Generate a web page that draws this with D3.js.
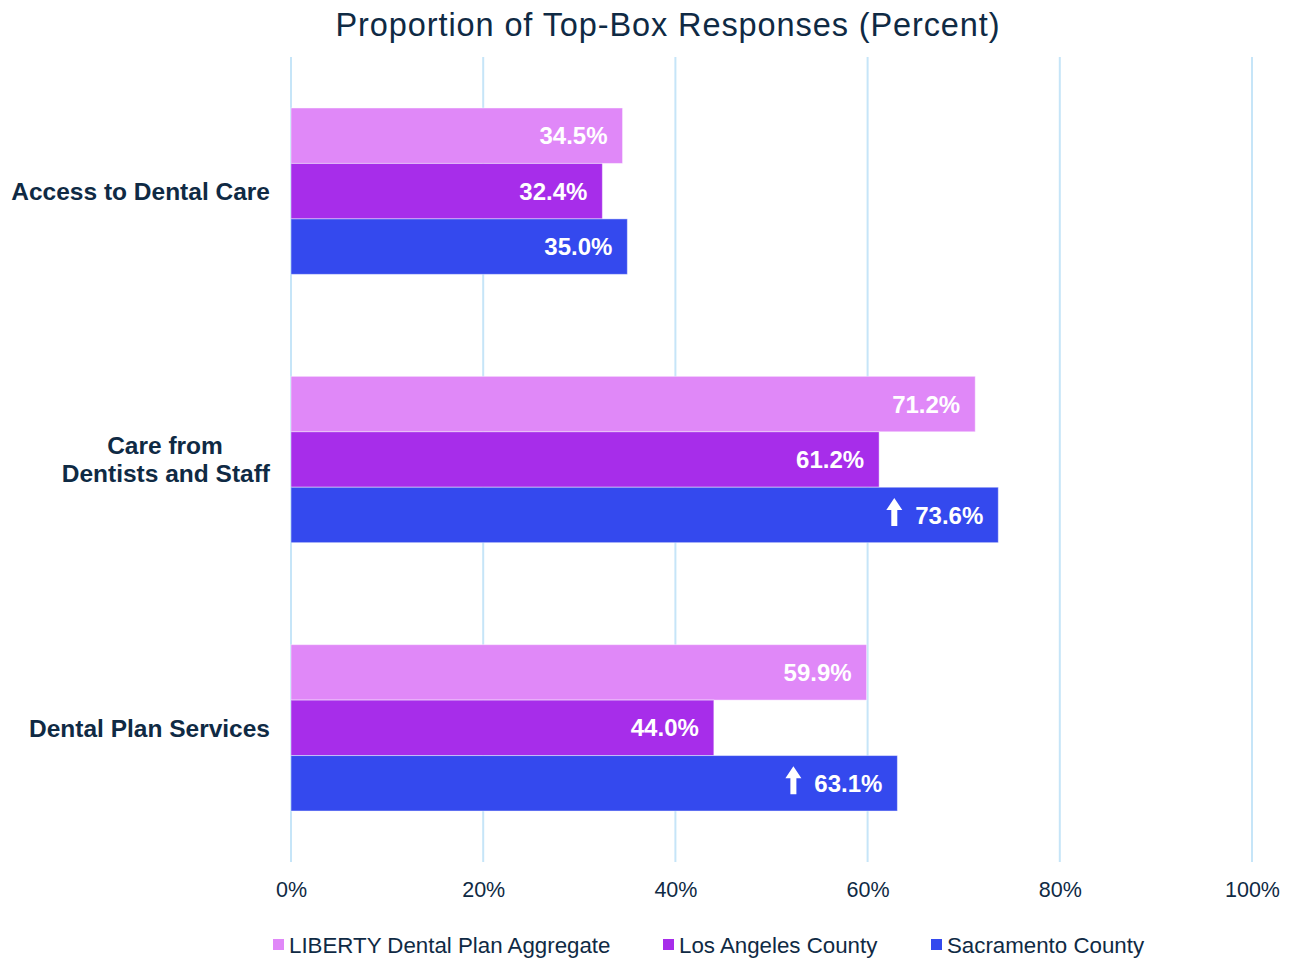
<!DOCTYPE html>
<html><head><meta charset="utf-8">
<script src="https://cdn.jsdelivr.net/npm/d3@7"></script>
<style>body{margin:0;background:#fff;} text{font-family:"Liberation Sans",Arial,sans-serif;}</style>
</head><body>
<svg id="chart" width="1291" height="961"></svg>
<script>
const categories = ["Access to Dental Care", "Care from\nDentists and Staff", "Dental Plan Services"];
const seriesNames = ["LIBERTY Dental Plan Aggregate", "Los Angeles County", "Sacramento County"];
const seriesColors = ["#E088F8", "#A72DEA", "#3449EE"];
const libertyValues = [34.5, 71.2, 59.9];
const losAngelesValues = [32.4, 61.2, 44.0];
const sacramentoValues = [35.0, 73.6, 63.1];
const sacramentoHigher = [false, true, true];
const tickValues = [0, 20, 40, 60, 80, 100];

const values = [libertyValues, losAngelesValues, sacramentoValues];
const textColor = "#0F2A44";
const svg = d3.select("#chart");

const x = d3.scaleLinear().domain([0, 100]).range([291, 1252]);
const y0 = d3.scaleBand().domain(categories).range([57, 862]).paddingInner(0.38).paddingOuter(0.19);
const y1 = d3.scaleBand().domain(d3.range(seriesNames.length)).range([0, y0.bandwidth()]);

// title
svg.append("text").attr("x", 668).attr("y", 36).attr("text-anchor", "middle")
  .attr("font-size", 32.5).attr("letter-spacing", 0.9).attr("fill", textColor)
  .text("Proportion of Top-Box Responses (Percent)");

// grid
svg.append("g").selectAll("line").data(tickValues).join("line")
  .attr("x1", d => x(d)).attr("x2", d => x(d)).attr("y1", 57).attr("y2", 862)
  .attr("stroke", "#C6E5F8").attr("stroke-width", 2);

// tick labels
const xAxis = d3.axisBottom(x).tickValues(tickValues).tickFormat(d => d + "%").tickSize(0).tickPadding(0);
const ax = svg.append("g").attr("transform", "translate(0,882)").call(xAxis);
ax.select(".domain").remove();
ax.selectAll("text").attr("font-size", 21.5).attr("fill", textColor).attr("font-family", "Liberation Sans, Arial, sans-serif");

// bars
const rows = [];
categories.forEach((c, ci) => values.forEach((arr, si) => rows.push({c, ci, si, v: arr[ci]})));
svg.append("g").selectAll("rect").data(rows).join("rect")
  .attr("x", x(0)).attr("y", d => y0(d.c) + y1(d.si))
  .attr("width", d => x(d.v) - x(0)).attr("height", y1.bandwidth())
  .attr("fill", d => seriesColors[d.si]).attr("stroke", "rgba(255,255,255,0.45)").attr("stroke-width", 1);

// value labels
svg.append("g").selectAll("text").data(rows).join("text")
  .attr("x", d => x(d.v) - 15).attr("y", d => y0(d.c) + y1(d.si) + y1.bandwidth() / 2)
  .attr("dy", "0.36em").attr("text-anchor", "end").attr("font-size", 24).attr("font-weight", "bold")
  .attr("fill", "#fff").text(d => d.v.toFixed(1) + "%");

// significance arrows
const arrowRows = rows.filter(d => d.si === 2 && sacramentoHigher[d.ci]);
svg.append("g").selectAll("path").data(arrowRows).join("path")
  .attr("transform", d => `translate(${x(d.v) - 104},${y0(d.c) + y1(d.si) + y1.bandwidth() / 2})`)
  .attr("d", "M0,-17 L8,-5 L3,-5 L3,11 L-3,11 L-3,-5 L-8,-5 Z")
  .attr("fill", "#fff");

// category labels
const catG = svg.append("g").selectAll("text").data(categories).join("text")
  .attr("text-anchor", "end").attr("font-size", 24.5).attr("font-weight", "bold").attr("fill", textColor)
  .attr("transform", d => `translate(270,${y0(d) + y0.bandwidth() / 2})`);
catG.each(function(d) {
  const lines = d.split("\n");
  const t = d3.select(this);
  lines.forEach((ln, i) => {
    t.append("tspan").attr("x", 0).attr("y", (i - (lines.length - 1) / 2) * 28).attr("dy", "0.36em")
      .attr("text-anchor", lines.length > 1 && i === 0 ? "middle" : "end")
      .attr("dx", lines.length > 1 && i === 0 ? -105 : 0)
      .text(ln);
  });
});

// legend
const legendX = [273, 663, 931];
const lg = svg.append("g").selectAll("g").data(seriesNames).join("g")
  .attr("transform", (d, i) => `translate(${legendX[i]},945)`);
lg.append("rect").attr("x", 0).attr("y", -6).attr("width", 11).attr("height", 11).attr("fill", (d, i) => seriesColors[i]);
lg.append("text").attr("x", 16).attr("y", 0).attr("dy", "0.36em").attr("font-size", 22.3).attr("fill", textColor).text(d => d);
</script>
</body></html>
